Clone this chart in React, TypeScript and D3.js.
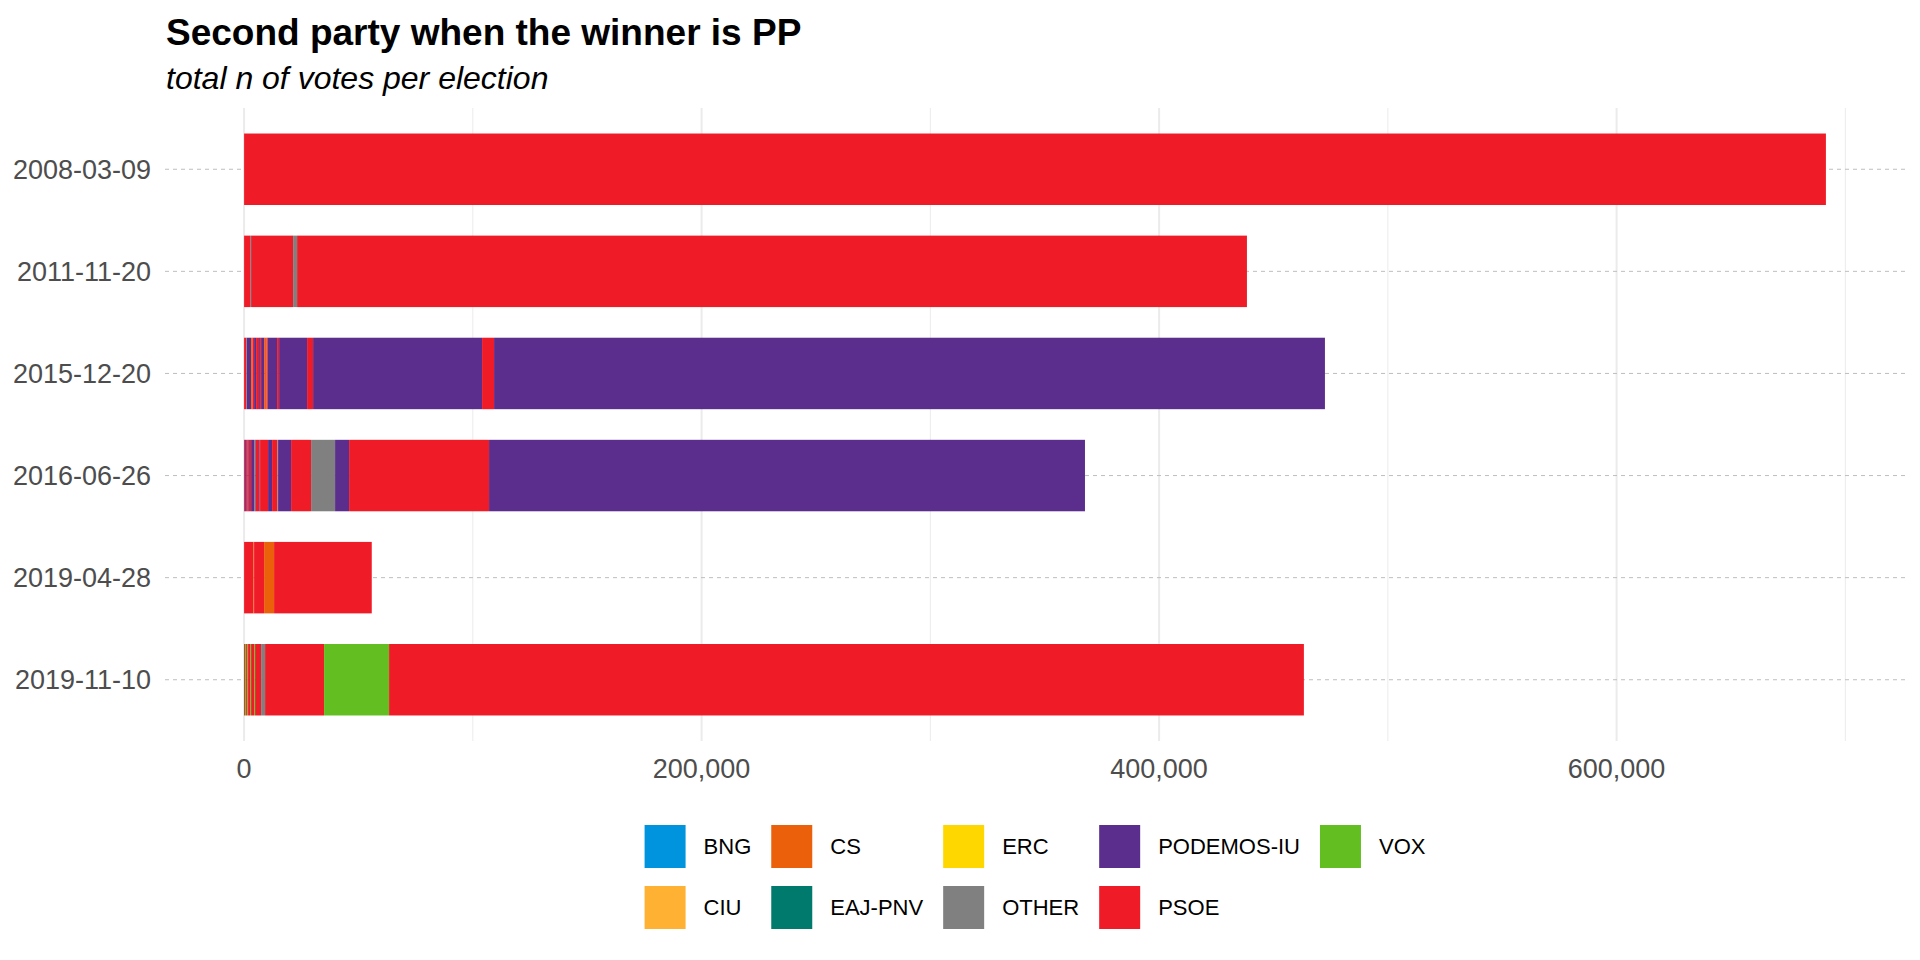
// App.tsx
import * as d3 from 'd3';
import React, { useMemo } from 'react';

// elections, top to bottom
const electionDates = ['2008-03-09', '2011-11-20', '2015-12-20', '2016-06-26', '2019-04-28', '2019-11-10'];

const partyNames = ['BNG', 'CIU', 'CS', 'EAJ-PNV', 'ERC', 'OTHER', 'PODEMOS-IU', 'PSOE', 'VOX'];
const partyColors = ['#0094DE', '#FFB134', '#EB600A', '#007A6D', '#FFD700', '#808080', '#5B2E8E', '#EF1C28', '#63BE22'];

const xTicks = [0, 200000, 400000, 600000];
const xMinorTicks = [100000, 300000, 500000, 700000];

// stacked pieces in drawing order: [second party, votes]
const votes2008: [string, number][] = [['PSOE', 691500]];

const votes2011: [string, number][] = [
  ['PSOE', 2620], ['OTHER', 440], ['PSOE', 18360], ['OTHER', 1750], ['PSOE', 415230],
];

const votes2015: [string, number][] = [
  ['PSOE', 874], ['OTHER', 291], ['PODEMOS-IU', 1894], ['CS', 583], ['PSOE', 729],
  ['PODEMOS-IU', 874], ['PSOE', 1311], ['PODEMOS-IU', 437], ['PSOE', 437], ['PODEMOS-IU', 1311],
  ['PSOE', 291], ['CS', 874], ['PSOE', 437], ['PODEMOS-IU', 4080], ['PSOE', 874],
  ['PODEMOS-IU', 12239], ['PSOE', 2623], ['PODEMOS-IU', 73870], ['PSOE', 5245], ['PODEMOS-IU', 363225],
];

const votes2016: [string, number][] = [
  ['PSOE', 437], ['PODEMOS-IU', 437], ['PSOE', 583], ['PODEMOS-IU', 583], ['PSOE', 1020],
  ['PODEMOS-IU', 1311], ['OTHER', 437], ['PODEMOS-IU', 291], ['PSOE', 1603], ['PODEMOS-IU', 291],
  ['PSOE', 3497], ['PODEMOS-IU', 1748], ['PSOE', 2331], ['OTHER', 291], ['PODEMOS-IU', 5682],
  ['PSOE', 8742], ['OTHER', 10490], ['PODEMOS-IU', 6119], ['PSOE', 61194], ['PODEMOS-IU', 260510],
];

const votes2019a: [string, number][] = [
  ['PSOE', 4080], ['CS', 290], ['PSOE', 4370], ['CS', 4370], ['PSOE', 42700],
];

const votes2019b: [string, number][] = [
  ['PSOE', 437], ['VOX', 437], ['PSOE', 437], ['VOX', 437], ['PSOE', 874],
  ['VOX', 437], ['PSOE', 1311], ['VOX', 437], ['PSOE', 2623], ['OTHER', 1748],
  ['PSOE', 25789], ['VOX', 28412], ['PSOE', 399920],
];

const votesByElection = [votes2008, votes2011, votes2015, votes2016, votes2019a, votes2019b];

const FONT = '"Liberation Sans", Arial, sans-serif';

export default function App() {
  const width = 1920;
  const height = 960;
  const panel = { left: 165, right: 1905, top: 108, bottom: 741 };

  const totals = votesByElection.map(v => d3.sum(v, d => d[1]));
  const maxTotal = d3.max(totals) as number;
  const pad = maxTotal * 0.05;

  const x = d3.scaleLinear().domain([-pad, maxTotal + pad]).range([panel.left, panel.right]);
  const y = d3.scalePoint<string>().domain(electionDates).range([panel.top, panel.bottom]).padding(0.6);
  const barH = y.step() * 0.7;
  const color = d3.scaleOrdinal<string, string>().domain(partyNames).range(partyColors);
  const fmt = d3.format(',');

  const bars = electionDates.map((date, i) => {
    const v = votesByElection[i];
    const ends = Array.from(d3.cumsum(v, d => d[1]));
    return v.map((d, j) => ({ date, party: d[0], x0: ends[j] - d[1], x1: ends[j] }));
  });

  // legend: 2 rows, filled column by column
  const legendFont = 22;
  const measure = useMemo(() => {
    const ctx = document.createElement('canvas').getContext('2d')!;
    ctx.font = `${legendFont}px ${FONT}`;
    return (t: string) => ctx.measureText(t).width;
  }, []);
  const keyW = 41;
  const keyH = 43;
  const keyGap = 18;
  const colGap = 20;
  const nCols = Math.ceil(partyNames.length / 2);
  const colWidths = d3.range(nCols).map(c => {
    const labels = partyNames.slice(c * 2, c * 2 + 2);
    return keyW + keyGap + (d3.max(labels, measure) as number);
  });
  const legendW = d3.sum(colWidths) + colGap * (nCols - 1);
  const legendX0 = (panel.left + panel.right) / 2 - legendW / 2;
  const colX = colWidths.map((_, c) => legendX0 + d3.sum(colWidths.slice(0, c)) + colGap * c);
  const rowY = [825, 886];

  return (
    <svg width={width} height={height} style={{ position: 'absolute', left: 0, top: 0, background: '#fff' }} fontFamily={FONT}>
      <rect width={width} height={height} fill="#fff" />

      {/* grid */}
      <g>
        {xMinorTicks.map(t => (
          <line key={'m' + t} x1={x(t)} x2={x(t)} y1={panel.top} y2={panel.bottom} stroke="#EBEBEB" strokeWidth={1} />
        ))}
        {xTicks.map(t => (
          <line key={'M' + t} x1={x(t)} x2={x(t)} y1={panel.top} y2={panel.bottom} stroke="#EBEBEB" strokeWidth={2} />
        ))}
        {electionDates.map(d => (
          <line key={d} x1={panel.left} x2={panel.right} y1={y(d)} y2={y(d)} stroke="#BEBEBE" strokeWidth={1} strokeDasharray="4,4" />
        ))}
      </g>

      {/* bars */}
      <g>
        {bars.map(segs =>
          segs.map((s, j) => (
            <rect
              key={s.date + j}
              x={x(s.x0)}
              y={(y(s.date) as number) - barH / 2}
              width={x(s.x1) - x(s.x0)}
              height={barH}
              fill={color(s.party)}
            />
          ))
        )}
      </g>

      {/* axes text */}
      <g fontSize={27} fill="#4D4D4D">
        {electionDates.map(d => (
          <text key={d} x={151} y={(y(d) as number) + 9.7} textAnchor="end">{d}</text>
        ))}
        {xTicks.map(t => (
          <text key={t} x={x(t)} y={777.5} textAnchor="middle">{fmt(t)}</text>
        ))}
      </g>

      {/* titles */}
      <text x={166} y={45} fontSize={37} fontWeight="bold" fill="#000">Second party when the winner is PP</text>
      <text x={166} y={89} fontSize={32} fontStyle="italic" fill="#000">total n of votes per election</text>

      {/* legend */}
      <g fontSize={legendFont} fill="#000">
        {partyNames.map((p, i) => {
          const c = Math.floor(i / 2);
          const r = i % 2;
          return (
            <g key={p} transform={`translate(${colX[c]},${rowY[r]})`}>
              <rect width={keyW} height={keyH} fill={color(p)} />
              <text x={keyW + keyGap} y={keyH / 2 + 7.9}>{p}</text>
            </g>
          );
        })}
      </g>
    </svg>
  );
}
